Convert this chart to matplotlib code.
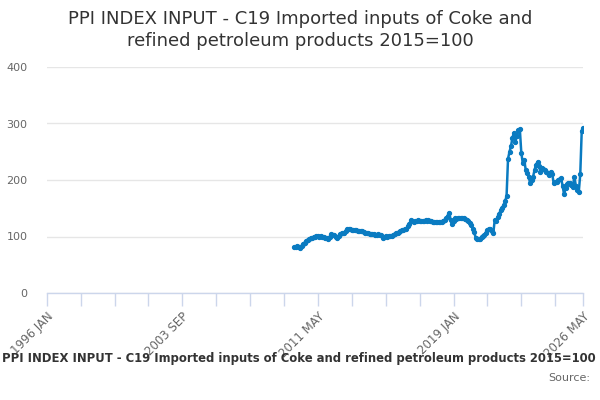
import matplotlib.pyplot as plt

# monthly values, 2010 JAN .. 2026 MAY
values_2010 = [81, 82, 83, 81, 80, 83, 87, 89, 92, 94, 95, 97]
values_2011 = [98, 99, 100, 101, 101, 100, 101, 100, 99, 98, 97, 95]
values_2012 = [99, 104, 103, 102, 100, 98, 101, 104, 106, 107, 107, 110]
values_2013 = [114, 113, 113, 112, 111, 111, 111, 110, 110, 110, 109, 108]
values_2014 = [107, 107, 106, 105, 105, 104, 104, 103, 103, 104, 103, 102]
values_2015 = [98, 100, 101, 100, 101, 101, 101, 102, 104, 106, 106, 108]
values_2016 = [110, 111, 112, 113, 113, 118, 122, 129, 127, 126, 127, 128]
values_2017 = [129, 128, 127, 127, 128, 129, 128, 129, 128, 127, 126, 126]
values_2018 = [125, 125, 125, 125, 126, 128, 129, 132, 136, 142, 130, 123]
values_2019 = [128, 132, 131, 132, 133, 133, 132, 132, 131, 129, 127, 124]
values_2020 = [120, 114, 108, 98, 96, 95, 96, 100, 101, 103, 107, 111]
values_2021 = [113, 114, 109, 106, 130, 128, 135, 140, 147, 151, 156, 162]
values_2022 = [172, 238, 250, 260, 275, 284, 268, 278, 288, 290, 248, 230]
values_2023 = [235, 218, 212, 206, 194, 200, 206, 218, 227, 232, 224, 215]
values_2024 = [221, 219, 218, 215, 212, 209, 215, 210, 194, 196, 197, 200]
values_2025 = [201, 203, 190, 175, 185, 193, 194, 195, 192, 188, 206, 190]
values_2026 = [182, 179, 210, 287, 292]

values = (values_2010 + values_2011 + values_2012 + values_2013 + values_2014 + values_2015
          + values_2016 + values_2017 + values_2018 + values_2019 + values_2020 + values_2021
          + values_2022 + values_2023 + values_2024 + values_2025 + values_2026)

# x axis counts months from 1996 JAN
first_month = 168  # 2010 JAN
last_month = 364   # 2026 MAY
x = [first_month + i for i in range(len(values))]

tick_labels = ["1996 JAN", "2003 SEP", "2011 MAY", "2019 JAN", "2026 MAY"]
major_ticks = [0, 92, 184, 276, 364]
minor_ticks = [m for m in range(23, 364, 23) if m not in major_ticks]

title = "PPI INDEX INPUT - C19 Imported inputs of Coke and\nrefined petroleum products 2015=100"
series_name = "PPI INDEX INPUT - C19 Imported inputs of Coke and refined petroleum products 2015=100"

line_color = "#0a7bc1"
axis_color = "#ccd6eb"
grid_color = "#e6e6e6"
label_color = "#666666"

fig = plt.figure(figsize=(6, 4), dpi=100)
ax = fig.add_axes([0.078, 0.2675, 0.894, 0.565])

ax.plot(x, values, color=line_color, linewidth=1.8, marker="o", markersize=2.8)

ax.set_xlim(0, last_month)
ax.set_ylim(0, 400)
ax.set_yticks([0, 100, 200, 300, 400])
ax.grid(axis="y", color=grid_color, linewidth=1)
ax.set_axisbelow(True)

ax.set_xticks(major_ticks)
ax.set_xticklabels(tick_labels, rotation=45, ha="right", rotation_mode="anchor")
ax.set_xticks(minor_ticks, minor=True)
ax.tick_params(axis="x", which="both", length=9, width=1, color=axis_color,
               labelcolor=label_color, labelsize=8.5, pad=3)
ax.tick_params(axis="y", length=0, labelcolor=label_color, labelsize=8, pad=14)

for side in ["top", "right", "left"]:
    ax.spines[side].set_visible(False)
ax.spines["bottom"].set_color(axis_color)
ax.spines["bottom"].set_linewidth(1)

fig.text(0.5, 0.974, title, ha="center", va="top", fontsize=13, color="#333333", linespacing=1.25)
fig.text(0.003, 0.103, series_name, ha="left", va="center", fontsize=8.4,
         fontweight="bold", color="#333333")
fig.text(0.983, 0.055, "Source:", ha="right", va="center", fontsize=8, color=label_color)

fig.savefig("out.png", dpi=100)
